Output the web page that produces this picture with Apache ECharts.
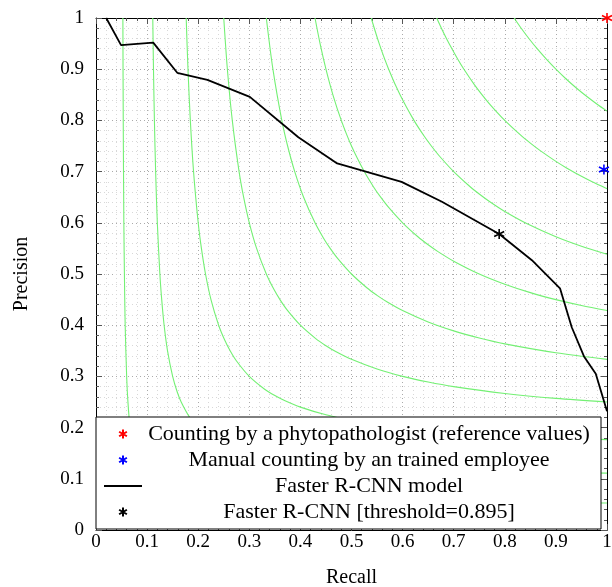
<!DOCTYPE html>
<html>
<head>
<meta charset="utf-8">
<script src="https://cdn.jsdelivr.net/npm/echarts@6/dist/echarts.min.js"></script>
<style>html,body{margin:0;padding:0;background:#fff}#c{width:612px;height:587px}</style>
</head>
<body>
<div id="c"></div>
<script>
// ---- data ----
const prRecall    = [0.02, 0.049, 0.112, 0.159, 0.218, 0.301, 0.396, 0.472, 0.598, 0.677, 0.789, 0.853, 0.908, 0.931, 0.955, 0.978, 1.0];
const prPrecision = [1.0, 0.947, 0.952, 0.893, 0.879, 0.846, 0.767, 0.716, 0.680, 0.641, 0.578, 0.527, 0.472, 0.396, 0.339, 0.305, 0.232];
const phytoPoint     = [1.0, 1.0];
const employeePoint  = [0.994, 0.704];
const thresholdPoint = [0.789, 0.578];
const legendNames = [
  'Counting by a phytopathologist (reference values)',
  'Manual counting by an trained employee',
  'Faster R-CNN model',
  'Faster R-CNN [threshold=0.895]'
];
const xTicks = [0, 0.1, 0.2, 0.3, 0.4, 0.5, 0.6, 0.7, 0.8, 0.9, 1];
// iso-F1 reference curves (recall, precision) for F1 = 0.1 ... 0.9
const isoF01 = [[0.0526,1],[0.0533,0.8],[0.0545,0.6],[0.0556,0.5],[0.0571,0.4],[0.06,0.3],[0.0625,0.25],[0.0667,0.2],[0.075,0.15],[0.0857,0.12],[0.1,0.1],[0.12,0.0857],[0.15,0.075],[0.2,0.0667],[0.25,0.0625],[0.3,0.06],[0.4,0.0571],[0.5,0.0556],[0.6,0.0545],[0.8,0.0533],[1,0.0526]];
const isoF02 = [[0.1111,1],[0.1125,0.9],[0.1143,0.8],[0.1167,0.7],[0.12,0.6],[0.125,0.5],[0.1286,0.45],[0.1333,0.4],[0.14,0.35],[0.15,0.3],[0.1588,0.27],[0.1667,0.25],[0.1833,0.22],[0.2,0.2],[0.22,0.1833],[0.25,0.1667],[0.27,0.1588],[0.3,0.15],[0.35,0.14],[0.4,0.1333],[0.5,0.125],[0.6,0.12],[0.7,0.1167],[0.8,0.1143],[0.9,0.1125],[1,0.1111]];
const isoF03 = [[0.1765,1],[0.18,0.9],[0.1846,0.8],[0.1909,0.7],[0.2,0.6],[0.2063,0.55],[0.2143,0.5],[0.225,0.45],[0.24,0.4],[0.2523,0.37],[0.2625,0.35],[0.275,0.33],[0.3,0.3],[0.33,0.275],[0.35,0.2625],[0.37,0.2523],[0.4,0.24],[0.45,0.225],[0.5,0.2143],[0.55,0.2063],[0.6,0.2],[0.7,0.1909],[0.8,0.1846],[0.9,0.18],[1,0.1765]];
const isoF04 = [[0.25,1],[0.2571,0.9],[0.2667,0.8],[0.28,0.7],[0.2889,0.65],[0.3,0.6],[0.3143,0.55],[0.3333,0.5],[0.3481,0.47],[0.36,0.45],[0.3739,0.43],[0.4,0.4],[0.43,0.3739],[0.45,0.36],[0.47,0.3481],[0.5,0.3333],[0.55,0.3143],[0.6,0.3],[0.65,0.2889],[0.7,0.28],[0.8,0.2667],[0.9,0.2571],[1,0.25]];
const isoF05 = [[0.3333,1],[0.3462,0.9],[0.3636,0.8],[0.375,0.75],[0.3889,0.7],[0.4063,0.65],[0.4286,0.6],[0.4453,0.57],[0.4583,0.55],[0.4732,0.53],[0.5,0.5],[0.53,0.4732],[0.55,0.4583],[0.57,0.4453],[0.6,0.4286],[0.65,0.4063],[0.7,0.3889],[0.75,0.375],[0.8,0.3636],[0.9,0.3462],[1,0.3333]];
const isoF06 = [[0.4286,1],[0.4385,0.95],[0.45,0.9],[0.4636,0.85],[0.48,0.8],[0.5,0.75],[0.525,0.7],[0.5432,0.67],[0.5571,0.65],[0.5727,0.63],[0.6,0.6],[0.63,0.5727],[0.65,0.5571],[0.67,0.5432],[0.7,0.525],[0.75,0.5],[0.8,0.48],[0.85,0.4636],[0.9,0.45],[0.95,0.4385],[1,0.4286]];
const isoF07 = [[0.5385,1],[0.5542,0.95],[0.5727,0.9],[0.595,0.85],[0.6222,0.8],[0.6417,0.77],[0.6563,0.75],[0.6724,0.73],[0.7,0.7],[0.73,0.6724],[0.75,0.6563],[0.77,0.6417],[0.8,0.6222],[0.85,0.595],[0.9,0.5727],[0.95,0.5542],[1,0.5385]];
const isoF08 = [[0.6667,1],[0.6807,0.97],[0.6909,0.95],[0.7077,0.92],[0.72,0.9],[0.7404,0.87],[0.7556,0.85],[0.7721,0.83],[0.8,0.8],[0.83,0.7721],[0.85,0.7556],[0.87,0.7404],[0.9,0.72],[0.92,0.7077],[0.95,0.6909],[0.97,0.6807],[1,0.6667]];
const isoF09 = [[0.8182,1],[0.8321,0.98],[0.8471,0.96],[0.8633,0.94],[0.8809,0.92],[0.9,0.9],[0.92,0.8809],[0.94,0.8633],[0.96,0.8471],[0.98,0.8321],[1,0.8182]];
const isoCurves = [isoF01, isoF02, isoF03, isoF04, isoF05, isoF06, isoF07, isoF08, isoF09];

// ---- chart ----
const FONT = 'Liberation Serif';
const ASTERISK = 'path://M0,-1L0,1M-0.866,-0.5L0.866,0.5M-0.866,0.5L0.866,-0.5';
const LINE_ICON = 'path://M0,0L38,0L38,1.8L0,1.8Z';
const chart = echarts.init(document.getElementById('c'), null, {renderer: 'canvas'});

function baseAxis(extra) {
  return Object.assign({
    type: 'value', min: 0, max: 1, interval: 0.1,
    axisLine: {show: true, onZero: false, lineStyle: {color: '#000', width: 1}},
    axisTick: {show: true, inside: true, length: 6, lineStyle: {color: '#555', width: 1}},
    minorTick: {show: true, splitNumber: 5, length: 3, lineStyle: {color: '#555', width: 1}},
    axisLabel: {show: false},
    splitLine: {show: false},
    minorSplitLine: {show: false}
  }, extra);
}

const gridLine = {show: true, lineStyle: {color: '#aaaaaa', width: 1, type: [1, 3]}};
const minorGridLine = {show: true, lineStyle: {color: '#d8d8d8', width: 1, type: [1, 3]}};
const fmt = v => String(Math.round(v * 10) / 10);
const xLabelStyle = {show: true, color: '#000', fontFamily: FONT, fontSize: 19, margin: 3, formatter: fmt};
const yLabelStyle = {show: true, color: '#000', fontFamily: FONT, fontSize: 19, margin: 12, formatter: fmt};

const series = [];
isoCurves.forEach(c => series.push({
  type: 'line', data: c, smooth: 0.3, symbol: 'none', silent: true,
  lineStyle: {color: '#74f074', width: 1.1}, z: 2, animation: false
}));
series.push({
  name: legendNames[2], type: 'line', symbol: 'none', showSymbol: false,
  data: prRecall.map((r, i) => [r, prPrecision[i]]),
  lineStyle: {color: '#000', width: 1.8}, itemStyle: {color: '#000'}, z: 3, animation: false
});
[[legendNames[0], phytoPoint, '#ff0000'], [legendNames[1], employeePoint, '#0000ff'], [legendNames[3], thresholdPoint, '#000000']]
  .forEach(([n, p, col]) => series.push({
    name: n, type: 'scatter', data: [p], symbol: ASTERISK, symbolSize: 10, clip: false,
    itemStyle: {color: col, borderColor: col, borderWidth: 1.6, opacity: 1}, z: 5, animation: false
  }));

chart.setOption({
  animation: false,
  backgroundColor: '#fff',
  grid: {left: 96, right: 5, top: 18, bottom: 57, containLabel: false, outerBoundsMode: 'none'},
  xAxis: [
    baseAxis({position: 'bottom', axisLabel: xLabelStyle, splitLine: gridLine, minorSplitLine: minorGridLine,
      name: 'Recall', nameLocation: 'middle', nameGap: 38,
      nameTextStyle: {color: '#000', fontFamily: FONT, fontSize: 20}}),
    baseAxis({position: 'top'})
  ],
  yAxis: [
    baseAxis({position: 'left', axisLabel: yLabelStyle, splitLine: gridLine, minorSplitLine: minorGridLine,
      name: 'Precision', nameLocation: 'middle', nameGap: 64, nameRotate: 90,
      nameTextStyle: {color: '#000', fontFamily: FONT, fontSize: 20}}),
    baseAxis({position: 'right'})
  ],
  legend: {
    show: true, orient: 'vertical', left: 96, top: 417,
    padding: [6, 10, 6, 8], itemGap: 4, itemWidth: 38, itemHeight: 9, itemTextGap: 5,
    backgroundColor: '#fff', borderColor: '#000', borderWidth: 1, borderRadius: 0,
    selectedMode: false, z: 10,
    data: [
      {name: legendNames[0], icon: ASTERISK},
      {name: legendNames[1], icon: ASTERISK},
      {name: legendNames[2], icon: LINE_ICON, itemStyle: {color: '#000', borderWidth: 0}},
      {name: legendNames[3], icon: ASTERISK}
    ],
    formatter: n => '{t|' + n + '}',
    textStyle: {color: '#000', fontFamily: FONT, fontSize: 22, lineHeight: 22,
      rich: {t: {width: 444, align: 'center', fontFamily: FONT, fontSize: 22, lineHeight: 22, color: '#000'}}}
  },
  series: series
});
</script>
</body>
</html>
